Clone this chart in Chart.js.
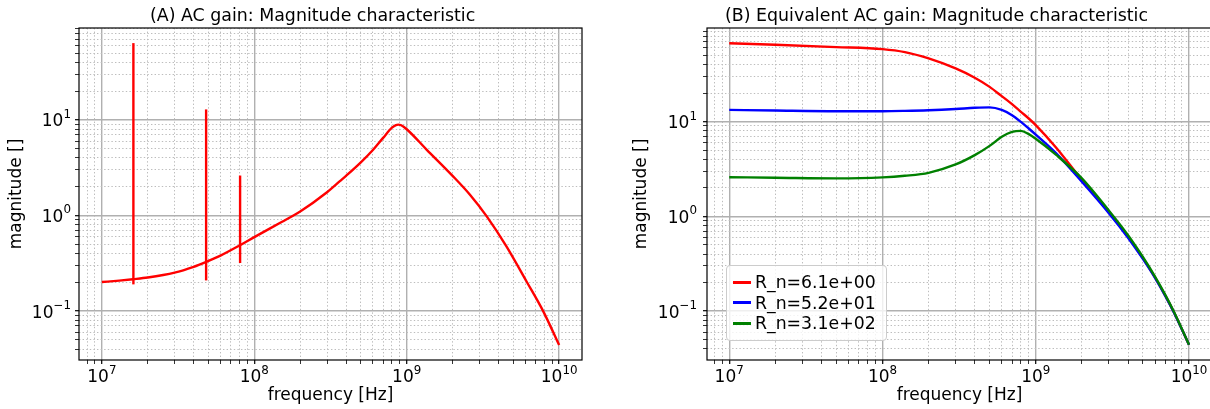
<!DOCTYPE html>
<html>
<head>
<meta charset="utf-8">
<title>AC gain magnitude</title>
<script src="https://cdn.jsdelivr.net/npm/chart.js@4.4.1/dist/chart.umd.min.js"></script>
<style>
  html, body { margin: 0; padding: 0; background: #fff; overflow: hidden; }
  body { position: relative; width: 1210px; height: 409px; font-family: "DejaVu Sans", sans-serif; color: #000; }
  canvas { position: absolute; top: 0; }
  #gain-a { left: 0; }
  #gain-b { left: 605px; }
  .plot-title { position: absolute; top: 5px; font-size: 17.4px; line-height: 20px; white-space: nowrap; }
  .legend {
    position: absolute; left: 726px; top: 265px; width: 159px; padding: 6px 0 6px 0;
    background: rgba(255, 255, 255, 0.8); border: 1px solid #cccccc; border-radius: 4px;
    font-size: 17.3px; line-height: 20.5px; white-space: nowrap;
  }
  .legend .row { display: flex; align-items: center; }
  .legend .swatch { display: inline-block; width: 18px; height: 3px; margin: 0 4px 0 6px; }
</style>
</head>
<body>
<canvas id="gain-a" width="605" height="409"></canvas>
<canvas id="gain-b" width="610" height="409"></canvas>
<div class="plot-title" style="left:150px">(A) AC gain: Magnitude characteristic</div>
<div class="plot-title" style="left:725px">(B) Equivalent AC gain: Magnitude characteristic</div>
<div class="legend" id="legend-b"></div>

<script>
// (A) AC gain, smooth part
const gainFreq = [1e7, 1.3e7, 1.6e7, 2e7, 3e7, 4e7, 4.8e7, 6e7, 8e7, 1e8,
    1.5e8, 2e8, 3e8, 3.66e8, 4e8, 5e8, 6e8, 7e8, 8e8, 8.5e8, 8.8e8, 9.2e8, 1e9,
    1.35e9, 2e9, 2.6e9, 3.35e9, 4.5e9, 6.1e9, 7.9e9, 1e10];
const gainMag = [0.201, 0.208, 0.215, 0.224, 0.252, 0.29, 0.325, 0.38, 0.485, 0.594,
    0.85, 1.1, 1.75, 2.3, 2.6, 3.6, 4.85, 6.5, 8.3, 8.85, 8.95, 8.8, 8.0,
    4.9, 2.6, 1.65, 0.98, 0.478, 0.205, 0.098, 0.044];
// (A) narrow resonances: frequency, peak and dip
const spikeFreq = [1.61e7, 4.83e7, 8.07e7];
const spikeTop = [63.8, 12.9, 2.62];
const spikeBottom = [0.19, 0.209, 0.318];

// (B) equivalent gain, one curve per R_n
const eqFreq = [1e7, 2e7, 5e7, 1e8, 1.4e8, 2e8, 3e8, 4e8, 5e8, 6e8, 7e8, 8e8, 9e8,
    1e9, 1.36e9, 2e9, 3e9, 4e9, 5e9, 6e9, 7e9, 8e9, 1e10];
const eqMagRn6 = [67.3, 64.8, 61.3, 58.3, 54.2, 46.5, 36.5, 29.1, 23.3, 18.6, 15.3, 12.7, 10.8,
    9.2, 5.3, 2.42, 1.12, 0.612, 0.362, 0.226, 0.1455, 0.096, 0.044];
const eqMagRn52 = [13.3, 13.1, 12.9, 12.9, 13.0, 13.2, 13.6, 14.0, 14.15, 13.3, 11.7, 9.95, 8.47,
    7.3, 4.63, 2.32, 1.08, 0.595, 0.355, 0.224, 0.1445, 0.0955, 0.044];
const eqMagRn310 = [2.59, 2.56, 2.52, 2.58, 2.68, 2.88, 3.53, 4.43, 5.55, 6.92, 7.8, 8.0, 7.38,
    6.6, 4.45, 2.52, 1.15, 0.632, 0.372, 0.231, 0.148, 0.097, 0.044];
const eqLabels = ['R_n=6.1e+00', 'R_n=5.2e+01', 'R_n=3.1e+02'];
const eqColors = ['#ff0000', '#0000ff', '#008000'];

// labelled decades: value and exponent
const freqTicks = [1e7, 1e8, 1e9, 1e10];
const freqTickExp = ['7', '8', '9', '10'];
const magTicks = [0.1, 1, 10];
const magTickExp = ['\u22121', '0', '1'];

const FONT = '"DejaVu Sans", sans-serif';
Chart.defaults.font.family = FONT;
Chart.defaults.font.size = 17;
Chart.defaults.color = '#000';

function isDecade(v) {
    const l = Math.log10(v);
    return Math.abs(l - Math.round(l)) < 1e-6;
}

// 1..9 x 10^n grid positions inside [min, max]
function logGrid(min, max) {
    const out = [];
    for (let e = Math.floor(Math.log10(min)); e <= Math.ceil(Math.log10(max)); e++) {
        for (let m = 1; m < 10; m++) {
            const v = m * Math.pow(10, e);
            if (v >= min && v <= max) out.push({ value: v });
        }
    }
    return out;
}

function logAxis(min, max, title, size, isX) {
    return {
        type: 'logarithmic',
        position: isX ? 'bottom' : 'left',
        min, max,
        afterBuildTicks: scale => { scale.ticks = logGrid(min, max); },
        afterFit: scale => { if (isX) scale.height = size; else scale.width = size; },
        ticks: { display: false, autoSkip: false },
        grid: {
            color: c => c.tick && isDecade(c.tick.value) ? '#b0b0b0' : '#bdbdbd',
            lineWidth: c => c.tick && isDecade(c.tick.value) ? 1.4 : 1,
            tickColor: '#000',
            tickWidth: c => c.tick && isDecade(c.tick.value) ? 1.2 : 0.8,
            tickLength: 4
        },
        border: {
            display: false,
            dash: c => c.tick && !isDecade(c.tick.value) ? [1.4, 2.2] : []
        },
        title: {
            display: true, text: title,
            padding: isX ? { top: 0, bottom: 3 } : { top: 6, bottom: 0 }
        }
    };
}

// "10" with a raised exponent, like the usual decade labels
function drawPow(ctx, x, baseline, exp, align) {
    ctx.font = '17px ' + FONT;
    const wBase = ctx.measureText('10').width;
    ctx.font = '11.9px ' + FONT;
    const wExp = ctx.measureText(exp).width;
    const left = align === 'center' ? x - (wBase + wExp) / 2 : x - wBase - wExp;
    ctx.textAlign = 'left';
    ctx.textBaseline = 'alphabetic';
    ctx.font = '17px ' + FONT;
    ctx.fillText('10', left, baseline);
    ctx.font = '11.9px ' + FONT;
    ctx.fillText(exp, left + wBase, baseline - 8.5);
}

function decadeLabels(yGap) {
    return {
        id: 'decadeLabels',
        afterDraw(chart) {
            const { ctx, scales: { x, y } } = chart;
            ctx.save();
            ctx.fillStyle = '#000';
            freqTicks.forEach((v, i) => drawPow(ctx, x.getPixelForValue(v), x.top + 22, freqTickExp[i], 'center'));
            magTicks.forEach((v, i) => drawPow(ctx, y.right - yGap, y.getPixelForValue(v) + 6.5, magTickExp[i], 'right'));
            ctx.restore();
        }
    };
}

// full black box round the plot area
const frame = {
    id: 'frame',
    afterDatasetsDraw(chart) {
        const { ctx, chartArea: a } = chart;
        ctx.save();
        ctx.strokeStyle = '#000';
        ctx.lineWidth = 1.2;
        ctx.strokeRect(a.left, a.top, a.right - a.left, a.bottom - a.top);
        ctx.restore();
    }
};

function points(xs, ys) {
    return xs.map((x, i) => ({ x, y: ys[i] }));
}

function lineSet(label, data, color, order, smooth) {
    return {
        label, data, order,
        borderColor: color, backgroundColor: color, borderWidth: 2.4,
        pointRadius: 0, fill: false,
        cubicInterpolationMode: smooth ? 'monotone' : 'default', tension: 0,
        borderJoinStyle: 'round', borderCapStyle: 'butt'
    };
}

const baseOptions = {
    responsive: false, animation: false, devicePixelRatio: 1,
    plugins: { legend: { display: false }, tooltip: { enabled: false } }
};

const gainSets = [lineSet('AC gain', points(gainFreq, gainMag), '#ff0000', 1, true)];
spikeFreq.forEach((f, i) => {
    gainSets.push(lineSet('resonance ' + (i + 1),
        [{ x: f, y: spikeBottom[i] }, { x: f, y: spikeTop[i] }], '#ff0000', 1, false));
});

new Chart(document.getElementById('gain-a'), {
    type: 'line',
    data: { datasets: gainSets },
    options: {
        ...baseOptions,
        layout: { padding: { left: 0, right: 23, top: 28, bottom: 0 } },
        scales: {
            x: logAxis(Math.pow(10, 6.85), Math.pow(10, 10.15), 'frequency [Hz]', 49, true),
            y: logAxis(Math.pow(10, -1.513), Math.pow(10, 1.963), 'magnitude []', 79, false)
        }
    },
    plugins: [frame, decadeLabels(8)]
});

const eqSeries = [eqMagRn6, eqMagRn52, eqMagRn310];
new Chart(document.getElementById('gain-b'), {
    type: 'line',
    data: {
        datasets: eqSeries.map((ys, i) => lineSet(eqLabels[i], points(eqFreq, ys), eqColors[i], 3 - i, true))
    },
    options: {
        ...baseOptions,
        layout: { padding: { left: 20, right: 3, top: 28, bottom: 0 } },
        scales: {
            x: logAxis(Math.pow(10, 6.855), Math.pow(10, 10.15), 'frequency [Hz]', 49, true),
            y: logAxis(Math.pow(10, -1.517), Math.pow(10, 1.989), 'magnitude []', 82, false)
        }
    },
    plugins: [frame, decadeLabels(10)]
});

// legend box in the lower left of panel B
const legendBox = document.getElementById('legend-b');
eqLabels.forEach((label, i) => {
    const row = document.createElement('div');
    row.className = 'row';
    const sw = document.createElement('span');
    sw.className = 'swatch';
    sw.style.background = eqColors[i];
    row.appendChild(sw);
    row.appendChild(document.createTextNode(label));
    legendBox.appendChild(row);
});
</script>
</body>
</html>
